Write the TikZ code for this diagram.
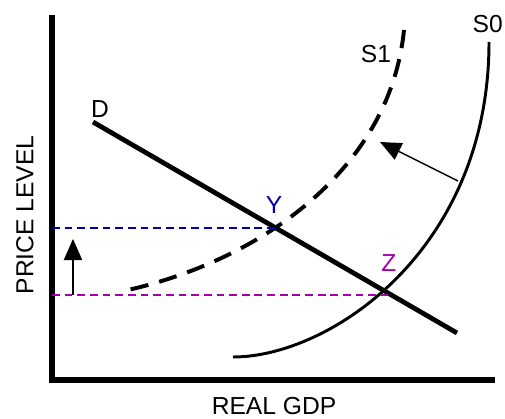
\documentclass[tikz,border=0pt]{standalone}
\usepackage{fontspec}
\setmainfont{Liberation Sans}
\usetikzlibrary{arrows.meta}
\definecolor{ink}{HTML}{000000}
\definecolor{ylevel}{HTML}{0000A8}
\definecolor{zlevel}{HTML}{A800A8}
\tikzset{
  x=0.025cm,y=-0.025cm,
  axisline/.style={line width=4.4pt,color=ink},
  demand/.style={line width=3.4pt,color=ink},
  supply/.style={line width=2.1pt,color=ink},
  newsupply/.style={line width=2.8pt,color=ink,dash pattern=on 13pt off 8pt},
  guide/.style={line width=1pt,dash pattern=on 5.5pt off 3.5pt},
  shiftarrow/.style={-{Triangle[length=15pt,width=13pt]},line width=1pt,color=ink},
  lbl/.style={font=\fontsize{17.5}{20}\selectfont,inner sep=0pt},
}

\begin{document}
\begin{tikzpicture}
  \useasboundingbox (0,0) rectangle (505,419);
  % axes
  \coordinate (axtop) at (52,15);
  \coordinate (origin) at (52,380);
  \coordinate (axright) at (495,380);
  \draw[axisline] (axtop) -- (origin) -- (axright);
  \node[lbl] (xlabel) at (274,406) {REAL GDP};
  \node[lbl,rotate=90] (ylabel) at (25,215) {PRICE LEVEL};
  % demand
  \coordinate (dtop) at (93,122);
  \coordinate (dbot) at (457,333);
  \draw[demand] (dtop) -- (dbot);
  \node[lbl] (dname) at (100,109) {D};
  % supply curves
  \coordinate (s0top) at (489,42);
  \coordinate (s0bot) at (233,357);
  \draw[supply] (s0top) .. controls (489,250) and (330,357) .. (s0bot);
  \node[lbl,anchor=east] (s0name) at (503,24) {S0};
  \coordinate (s1top) at (404,30);
  \coordinate (s1bot) at (128,290);
  \draw[newsupply] (s1top) .. controls (390,170) and (260,260) .. (s1bot);
  \node[lbl] (s1name) at (376,54) {S1};
  % equilibria
  \coordinate (ypt) at (277,228);
  \coordinate (zpt) at (388,295);
  \coordinate (yaxis) at (52,228);
  \coordinate (zaxis) at (52,295);
  \draw[guide,ylevel] (yaxis) -- (ypt);
  \draw[guide,zlevel] (zaxis) -- (zpt);
  \node[lbl,text=ylevel] (yname) at (274,205) {Y};
  \node[lbl,text=zlevel] (zname) at (389,263) {Z};
  % shifts
  \coordinate (shiftfrom) at (458,181);
  \coordinate (shiftto) at (380,142);
  \draw[shiftarrow] (shiftfrom) -- (shiftto);
  \coordinate (risefrom) at (73,295);
  \coordinate (riseto) at (73,239);
  \draw[shiftarrow] (risefrom) -- (riseto);
\end{tikzpicture}
\end{document}
